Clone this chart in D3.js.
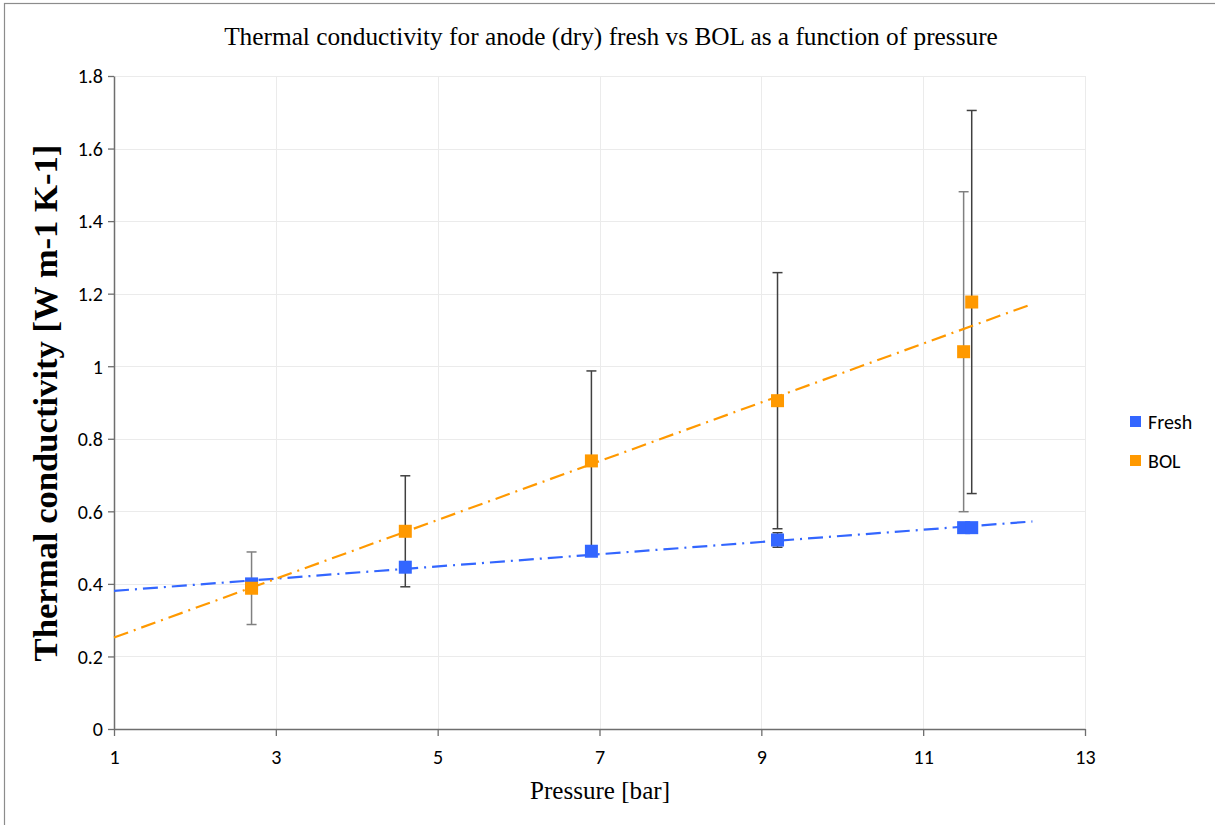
<!DOCTYPE html>
<html>
<head>
<meta charset="utf-8">
<script src="https://cdn.jsdelivr.net/npm/d3@7"></script>
<style>
  html, body { margin: 0; padding: 0; background: #ffffff; }
  svg { display: block; }
  .tick-label { font-family: Carlito, Calibri, Lato, "Open Sans", sans-serif; font-size: 20px; fill: #000; }
  .serif { font-family: "Liberation Serif", "Times New Roman", serif; fill: #000; }
</style>
</head>
<body>
<svg id="chart" width="1215" height="825"></svg>
<script>
// Pressure [bar] of each measurement
const pressure = [2.7, 4.6, 6.9, 9.2, 11.5, 11.6];
// Thermal conductivity [W m-1 K-1], fresh anode (dry)
const freshValues = [0.400, 0.446, 0.490, 0.521, 0.555, 0.555];
const freshErrors = [0.006, 0.006, 0.006, 0.020, 0.006, 0.006];
// Thermal conductivity [W m-1 K-1], BOL anode (dry)
const bolValues = [0.388, 0.545, 0.739, 0.905, 1.040, 1.177];
const bolErrors = [0.100, 0.153, 0.248, 0.353, 0.441, 0.528];
// Axis ticks
const xTicks = [1, 3, 5, 7, 9, 11, 13];
const yTicks = [0, 0.2, 0.4, 0.6, 0.8, 1, 1.2, 1.4, 1.6, 1.8];
const seriesNames = ["Fresh", "BOL"];

const colors = { Fresh: "#3366ff", BOL: "#ff9900" };
const bolErrTone = ["#808080", "#404040", "#404040", "#404040", "#808080", "#404040"];

const svg = d3.select("#chart");
const W = 1215, H = 825;
const plot = { left: 114, right: 1085, top: 76, bottom: 729 };

// outer chart frame
svg.append("rect")
  .attr("x", 4.5).attr("y", 3.5)
  .attr("width", W + 10).attr("height", H + 10)
  .attr("fill", "none").attr("stroke", "#8c8c8c").attr("stroke-width", 1.2);

const x = d3.scaleLinear().domain([1, 13]).range([plot.left, plot.right]);
const y = d3.scaleLinear().domain([0, 1.8]).range([plot.bottom, plot.top]);

// gridlines
const grid = svg.append("g").attr("stroke", "#ebebeb").attr("stroke-width", 1);
grid.selectAll("line.h").data(yTicks.filter(d => d > 0)).join("line")
  .attr("x1", plot.left).attr("x2", plot.right)
  .attr("y1", d => Math.round(y(d)) + 0.5).attr("y2", d => Math.round(y(d)) + 0.5);
grid.selectAll("line.v").data(xTicks.filter(d => d > 1)).join("line")
  .attr("y1", plot.top).attr("y2", plot.bottom)
  .attr("x1", d => Math.round(x(d)) + 0.5).attr("x2", d => Math.round(x(d)) + 0.5);

// axes
const xAxis = svg.append("g")
  .attr("transform", `translate(0,${plot.bottom})`)
  .call(d3.axisBottom(x).tickValues(xTicks).tickSize(7).tickSizeOuter(0).tickFormat(d3.format("d")));
const yAxis = svg.append("g")
  .attr("transform", `translate(${plot.left},0)`)
  .call(d3.axisLeft(y).tickValues(yTicks).tickSize(6).tickSizeOuter(0).tickFormat(d => d === 0 ? "0" : d3.format("~g")(d)));
[xAxis, yAxis].forEach(a => {
  a.attr("font-size", null).attr("font-family", null);
  a.select(".domain").attr("stroke", "#6e6e6e").attr("stroke-width", 1.5);
  a.selectAll(".tick line").attr("stroke", "#6e6e6e").attr("stroke-width", 1.3);
  a.selectAll(".tick text").attr("class", "tick-label");
});
xAxis.selectAll(".tick text").attr("y", 0).attr("dy", null).attr("transform", "translate(0,35)");
yAxis.selectAll(".tick text").attr("x", -11).attr("dy", "0.34em");

// least-squares trendline extended from x = 1 to 0.75 bar past the last point
function fit(xs, ys) {
  const mx = d3.mean(xs), my = d3.mean(ys);
  const sxy = d3.sum(xs, (v, i) => (v - mx) * (ys[i] - my));
  const sxx = d3.sum(xs, v => (v - mx) ** 2);
  const b = sxy / sxx;
  return v => my + b * (v - mx);
}
const trendRange = [1, d3.max(pressure) + 0.75];

const bolData = pressure.map((p, i) => ({ p, v: bolValues[i], e: bolErrors[i], tone: bolErrTone[i] }));
const freshData = pressure.map((p, i) => ({ p, v: freshValues[i], e: freshErrors[i], tone: "#404040" }));

// error bars
function errorBars(data) {
  const g = svg.append("g");
  data.forEach(d => {
    const cx = x(d.p), y1 = y(d.v + d.e), y2 = y(d.v - d.e);
    g.append("line").attr("x1", cx).attr("x2", cx).attr("y1", y1).attr("y2", y2)
      .attr("stroke", d.tone).attr("stroke-width", 1.5);
    [y1, y2].forEach(yy => g.append("line")
      .attr("x1", cx - 5).attr("x2", cx + 5).attr("y1", yy).attr("y2", yy)
      .attr("stroke", d.tone).attr("stroke-width", 1.5));
  });
}
errorBars(bolData);
errorBars(freshData);

// trendlines
[["Fresh", freshValues], ["BOL", bolValues]].forEach(([name, vals]) => {
  const f = fit(pressure, vals);
  svg.append("line")
    .attr("x1", x(trendRange[0])).attr("y1", y(f(trendRange[0])))
    .attr("x2", x(trendRange[1])).attr("y2", y(f(trendRange[1])))
    .attr("stroke", colors[name]).attr("stroke-width", 2.2)
    .attr("stroke-dasharray", "15,6,2,6");
});

// markers
const m = 13;
function markers(data, color) {
  svg.append("g").selectAll("rect").data(data).join("rect")
    .attr("x", d => x(d.p) - m / 2).attr("y", d => y(d.v) - m / 2)
    .attr("width", m).attr("height", m)
    .attr("fill", color);
}
markers(freshData, colors.Fresh);
markers(bolData, colors.BOL);

// legend
const legend = svg.append("g").attr("transform", "translate(1130,416)");
seriesNames.forEach((name, i) => {
  const g = legend.append("g").attr("transform", `translate(0,${i * 39})`);
  g.append("rect").attr("width", 11).attr("height", 11).attr("fill", colors[name]);
  g.append("text").attr("class", "tick-label").attr("x", 18).attr("y", 5.5).attr("dy", "0.36em")
    .text(name);
});

// fit a text element to a target width by adjusting its font size
function fitText(sel, target) {
  const len = sel.node().getComputedTextLength();
  const fs = parseFloat(sel.attr("font-size"));
  sel.attr("font-size", (fs * target / len).toFixed(2) + "px");
}

const title = svg.append("text").attr("class", "serif")
  .attr("x", 611).attr("y", 45).attr("text-anchor", "middle").attr("font-size", "22px")
  .text("Thermal conductivity for anode (dry) fresh vs BOL as a function of pressure");
fitText(title, 774);

const xLabel = svg.append("text").attr("class", "serif")
  .attr("x", 600).attr("y", 799).attr("text-anchor", "middle").attr("font-size", "22px")
  .text("Pressure [bar]");
fitText(xLabel, 140);

const yLabel = svg.append("text").attr("class", "serif")
  .attr("transform", "translate(57,403) rotate(-90)")
  .attr("text-anchor", "middle").attr("font-size", "24px").attr("font-weight", "bold")
  .text("Thermal conductivity [W m-1 K-1]");
fitText(yLabel, 517);
</script>
</body>
</html>
